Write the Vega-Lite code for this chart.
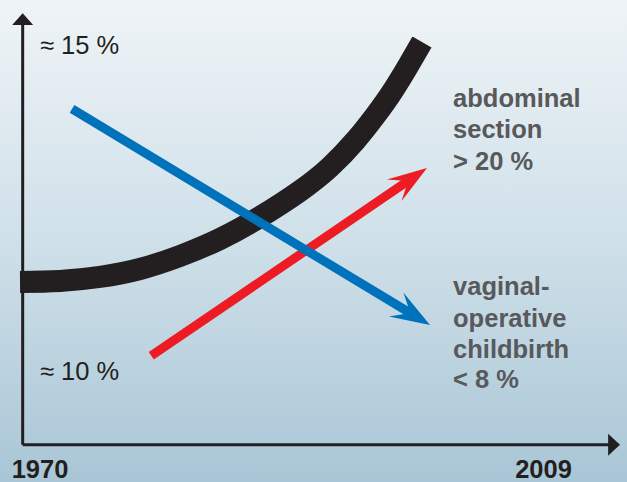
{
  "$schema": "https://vega.github.io/schema/vega-lite/v6.json",
  "width": 627,
  "height": 482,
  "autosize": {"type": "none"},
  "padding": 0,
  "config": {
    "view": {
      "stroke": null,
      "fill": {"gradient": "linear", "x1": 0, "y1": 0, "x2": 0, "y2": 1,
        "stops": [{"offset": 0, "color": "#eff4f7"}, {"offset": 0.5, "color": "#cfe0e9"}, {"offset": 1, "color": "#a9c6d6"}]}
    }
  },
  "datasets": {
    "axes": [
      {"year": 1970, "year2": 1970, "pct": 8.87, "pct2": 15.33},
      {"year": 1970, "year2": 2014.18, "pct": 8.87, "pct2": 8.87}
    ],
    "yhead": [{"year": 1970, "pct": 15.405}],
    "xhead": [{"year": 2014.33, "pct": 8.87}],
    "curve": [
      {"year": 1969.80, "pct": 11.371},
      {"year": 1972.80, "pct": 11.386},
      {"year": 1975.80, "pct": 11.448},
      {"year": 1978.79, "pct": 11.570},
      {"year": 1981.79, "pct": 11.770},
      {"year": 1984.79, "pct": 12.031},
      {"year": 1987.79, "pct": 12.369},
      {"year": 1990.79, "pct": 12.768},
      {"year": 1993.04, "pct": 13.136},
      {"year": 1994.91, "pct": 13.535},
      {"year": 1996.41, "pct": 13.919},
      {"year": 1997.69, "pct": 14.288},
      {"year": 1998.89, "pct": 14.687},
      {"year": 1999.93, "pct": 15.055}
    ],
    "red": [{"year": 1979.64, "pct": 10.238}, {"year": 1999.07, "pct": 12.947}],
    "redhead": [{"year": 1999.07, "pct": 12.947}],
    "blue": [{"year": 1973.70, "pct": 14.027}, {"year": 1999.25, "pct": 10.869}],
    "bluehead": [{"year": 1999.25, "pct": 10.869}],
    "approx": [
      {"year": 1971.30, "pct": 14.871, "label": "≈ 15 %"},
      {"year": 1971.30, "pct": 9.866, "label": "≈ 10 %"}
    ],
    "years": [
      {"year": 1971.30, "pct": 8.365, "label": "1970"},
      {"year": 2009.04, "pct": 8.365, "label": "2009"}
    ],
    "notes": [
      {"year": 2002.26, "pct": 14.062, "label": "abdominal"},
      {"year": 2002.26, "pct": 13.581, "label": "section"},
      {"year": 2002.26, "pct": 13.090, "label": "> 20 %"},
      {"year": 2002.26, "pct": 11.171, "label": "vaginal-"},
      {"year": 2002.26, "pct": 10.680, "label": "operative"},
      {"year": 2002.26, "pct": 10.204, "label": "childbirth"},
      {"year": 2002.26, "pct": 9.744, "label": "< 8 %"}
    ]
  },
  "encoding": {
    "x": {"field": "year", "type": "quantitative", "scale": {"domain": [1968.3, 2015.3], "nice": false, "zero": false}, "axis": null},
    "y": {"field": "pct", "type": "quantitative", "scale": {"domain": [8.3, 15.7], "nice": false, "zero": false}, "axis": null}
  },
  "layer": [
    {
      "data": {"name": "axes"},
      "mark": {"type": "rule", "color": "#231f20", "strokeWidth": 3},
      "encoding": {"x2": {"field": "year2"}, "y2": {"field": "pct2"}}
    },
    {
      "data": {"name": "yhead"},
      "mark": {"type": "point", "shape": "M0,-0.56 L1,0.56 L-1,0.56 Z", "size": 441, "filled": true, "opacity": 1, "color": "#231f20", "strokeWidth": 0}
    },
    {
      "data": {"name": "xhead"},
      "mark": {"type": "point", "shape": "M0.54,0 L-0.54,-1 L-0.54,1 Z", "size": 484, "filled": true, "opacity": 1, "color": "#231f20", "strokeWidth": 0}
    },
    {
      "data": {"name": "curve"},
      "mark": {"type": "line", "color": "#231f20", "strokeWidth": 22, "strokeCap": "butt", "interpolate": "natural"}
    },
    {
      "data": {"name": "red"},
      "mark": {"type": "line", "color": "#ed1c24", "strokeWidth": 9, "strokeCap": "butt"}
    },
    {
      "data": {"name": "redhead"},
      "mark": {"type": "point", "shape": "M1,0 L-0.98,-0.65 L-0.15,0 L-0.98,0.65 Z", "size": 1600, "angle": 325.7, "filled": true, "opacity": 1, "color": "#ed1c24", "strokeWidth": 0}
    },
    {
      "data": {"name": "blue"},
      "mark": {"type": "line", "color": "#0072bc", "strokeWidth": 9, "strokeCap": "butt"}
    },
    {
      "data": {"name": "bluehead"},
      "mark": {"type": "point", "shape": "M1,0 L-0.98,-0.7 L-0.15,0 L-0.98,0.7 Z", "size": 1600, "angle": 31.1, "filled": true, "opacity": 1, "color": "#0072bc", "strokeWidth": 0}
    },
    {
      "data": {"name": "approx"},
      "mark": {"type": "text", "font": "Liberation Sans", "fontSize": 25.5, "color": "#231f20", "align": "left", "baseline": "alphabetic"},
      "encoding": {"text": {"field": "label"}}
    },
    {
      "data": {"name": "years"},
      "mark": {"type": "text", "font": "Liberation Sans", "fontSize": 25.5, "fontWeight": "bold", "color": "#231f20", "align": "center", "baseline": "alphabetic"},
      "encoding": {"text": {"field": "label"}}
    },
    {
      "data": {"name": "notes"},
      "mark": {"type": "text", "font": "Liberation Sans", "fontSize": 25.5, "fontWeight": "bold", "color": "#58595b", "align": "left", "baseline": "alphabetic"},
      "encoding": {"text": {"field": "label"}}
    }
  ]
}
